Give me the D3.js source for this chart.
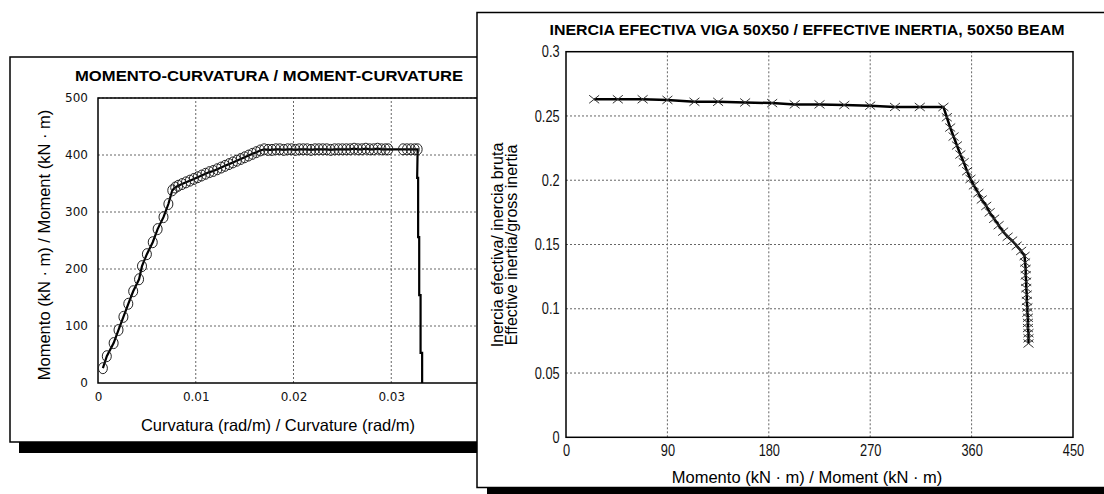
<!DOCTYPE html>
<html>
<head>
<meta charset="utf-8">
<script src="https://cdn.jsdelivr.net/npm/d3@7"></script>
<style>
  body { margin: 0; background: #fff; }
  svg { display: block; }
</style>
</head>
<body>
<div id="chart"></div>
<script>
// ---- moment-curvature data (left chart) ----
var curvature = [0.0005, 0.0009, 0.0016, 0.0021, 0.0026, 0.0031, 0.0036, 0.0042, 0.0045, 0.0050, 0.0056, 0.0061, 0.0067, 0.0072,
  0.0076, 0.0079, 0.0082, 0.0086, 0.0090, 0.0094, 0.0098, 0.0102, 0.0106, 0.0110, 0.0114, 0.0118, 0.0122, 0.0126, 0.0130,
  0.0134, 0.0138, 0.0142, 0.0146, 0.0150, 0.0154, 0.0158, 0.0162, 0.0166, 0.0170,
  0.0174, 0.0178, 0.0182, 0.0186, 0.0190, 0.0194, 0.0198, 0.0202, 0.0206, 0.0210, 0.0214, 0.0218, 0.0222, 0.0226, 0.0230,
  0.0234, 0.0238, 0.0242, 0.0246, 0.0250, 0.0254, 0.0258, 0.0262, 0.0266, 0.0270, 0.0274, 0.0278, 0.0282, 0.0286, 0.0290,
  0.0294, 0.0297,
  0.0312, 0.0316, 0.0320, 0.0324, 0.0327];
var moment = [26, 47, 70, 93, 116, 139, 161, 182, 205, 226, 247, 270, 291, 314,
  338, 343, 346, 349, 352, 355, 358, 361, 364, 367, 370, 372, 375, 378, 381,
  384, 387, 390, 393, 396, 399, 402, 405, 408, 410,
  409, 409, 410, 410, 409, 410, 410, 409, 410, 410, 410, 409, 410, 410, 410,
  410, 409, 410, 410, 410, 410, 410, 411, 410, 410, 411, 410, 410, 411, 410,
  410, 410,
  410, 410, 410, 410, 410];
// failure branch, drawn as line only
var dropCurvature = [0.0327, 0.03265, 0.03275, 0.03275, 0.03286, 0.03286, 0.0330, 0.0330, 0.03316, 0.03316];
var dropMoment = [410, 360, 360, 256, 256, 154, 154, 53, 53, 0];

var leftXTicks = [0, 0.01, 0.02, 0.03, 0.04];
var leftYTicks = [0, 100, 200, 300, 400, 500];

// ---- effective inertia data (right chart) ----
var beamMoment = [25, 46, 68, 90, 114, 135, 159, 183, 203, 225, 247, 270, 292, 314, 335,
  338, 341, 344, 347, 350, 353, 356, 359, 362, 366, 369, 373, 376, 380, 384, 388, 392, 396, 400, 404, 407,
  407.5, 408, 408, 408.5, 408.5, 409, 409, 409.5, 409.5, 410, 410, 410, 410.5, 410.5, 410.5];
var inertiaRatio = [0.263, 0.263, 0.263, 0.2625, 0.261, 0.261, 0.2605, 0.260, 0.259, 0.259, 0.2585, 0.258, 0.257, 0.257, 0.257,
  0.249, 0.241, 0.234, 0.227, 0.220, 0.214, 0.207, 0.201, 0.196, 0.190, 0.185, 0.180, 0.175, 0.170, 0.165, 0.160, 0.156, 0.153, 0.149, 0.145, 0.141,
  0.136, 0.131, 0.126, 0.121, 0.116, 0.111, 0.106, 0.101, 0.097, 0.093, 0.089, 0.085, 0.081, 0.077, 0.073];

var rightXTicks = [0, 90, 180, 270, 360, 450];
var rightYTicks = [0, 0.05, 0.1, 0.15, 0.2, 0.25, 0.3];

var width = 1104, height = 494;
var svg = d3.select("#chart").append("svg")
  .attr("width", width).attr("height", height);
svg.append("rect").attr("width", width).attr("height", height).attr("fill", "#fff");

var sans = "'Liberation Sans', Arial, sans-serif";

// ================= LEFT CHART =================
var left = svg.append("g");
left.append("rect").attr("x", 19).attr("y", 442).attr("width", 470).attr("height", 11).attr("fill", "#000");
left.append("rect").attr("x", 10).attr("y", 57).attr("width", 480).attr("height", 385)
  .attr("fill", "#fff").attr("stroke", "#000").attr("stroke-width", 1.5);

var lx = d3.scaleLinear().domain([0, 0.04]).range([98, 489]);
var ly = d3.scaleLinear().domain([0, 500]).range([383, 98]);

// grid
left.append("g").selectAll("line").data(leftXTicks.slice(1)).enter().append("line")
  .attr("x1", d => lx(d)).attr("x2", d => lx(d)).attr("y1", ly(0)).attr("y2", ly(500))
  .attr("stroke", "#666").attr("stroke-dasharray", "2,2");
left.append("g").selectAll("line").data(leftYTicks.slice(1)).enter().append("line")
  .attr("x1", lx(0)).attr("x2", lx(0.04)).attr("y1", d => ly(d)).attr("y2", d => ly(d))
  .attr("stroke", "#666").attr("stroke-dasharray", "2,2");

left.append("rect").attr("x", lx(0)).attr("y", ly(500))
  .attr("width", lx(0.04) - lx(0)).attr("height", ly(0) - ly(500))
  .attr("fill", "none").attr("stroke", "#000").attr("stroke-width", 1.5);

var lxAxis = d3.axisBottom(lx).tickValues([0, 0.01, 0.02, 0.03]).tickSize(0).tickPadding(9)
  .tickFormat(d => d === 0 ? "0" : d3.format(".2f")(d));
left.append("g").attr("transform", "translate(0," + ly(0) + ")").call(lxAxis)
  .call(g => g.select(".domain").remove())
  .selectAll("text").attr("font-family", "'DejaVu Sans', Verdana, sans-serif").attr("font-size", 12).attr("fill", "#111");
var lyAxis = d3.axisLeft(ly).tickValues(leftYTicks).tickSize(0).tickPadding(10);
left.append("g").attr("transform", "translate(" + lx(0) + ",0)").call(lyAxis)
  .call(g => g.select(".domain").remove())
  .selectAll("text").attr("font-family", "'DejaVu Sans', Verdana, sans-serif").attr("font-size", 12).attr("fill", "#111");

var mcPoints = d3.zip(curvature, moment);
var dropPoints = d3.zip(dropCurvature, dropMoment);
var lline = d3.line().x(d => lx(d[0])).y(d => ly(d[1]));
left.append("path").attr("d", lline(mcPoints.concat(dropPoints)))
  .attr("fill", "none").attr("stroke", "#000").attr("stroke-width", 2.2);
left.append("g").selectAll("ellipse").data(mcPoints).enter().append("ellipse")
  .attr("cx", d => lx(d[0])).attr("cy", d => ly(d[1]))
  .attr("rx", 4.5).attr("ry", 5.5)
  .attr("fill", "none").attr("stroke", "#222").attr("stroke-width", 1);

left.append("text").attr("x", 269).attr("y", 81)
  .attr("text-anchor", "middle").attr("font-family", sans)
  .attr("font-weight", "bold").attr("font-size", 14)
  .attr("textLength", 388).attr("lengthAdjust", "spacingAndGlyphs")
  .text("MOMENTO-CURVATURA / MOMENT-CURVATURE");
left.append("text").attr("x", 278).attr("y", 431)
  .attr("text-anchor", "middle").attr("font-family", sans)
  .attr("font-size", 16.5).text("Curvatura (rad/m) / Curvature (rad/m)");
left.append("text").attr("transform", "translate(50,245) rotate(-90)")
  .attr("text-anchor", "middle").attr("font-family", sans)
  .attr("font-size", 16.5).text("Momento (kN \u00b7 m) / Moment (kN \u00b7 m)");

// ================= RIGHT CHART =================
var right = svg.append("g");
right.append("rect").attr("x", 487).attr("y", 488).attr("width", 620).attr("height", 10).attr("fill", "#000");
right.append("rect").attr("x", 477).attr("y", 12.5).attr("width", 640).attr("height", 475)
  .attr("fill", "#fff").attr("stroke", "#000").attr("stroke-width", 1.5);

var rx = d3.scaleLinear().domain([0, 450]).range([566, 1073]);
var ry = d3.scaleLinear().domain([0, 0.3]).range([437.3, 51.7]);

right.append("g").selectAll("line").data(rightXTicks.slice(1, -1)).enter().append("line")
  .attr("x1", d => rx(d)).attr("x2", d => rx(d)).attr("y1", ry(0)).attr("y2", ry(0.3))
  .attr("stroke", "#666").attr("stroke-dasharray", "2,2");
right.append("g").selectAll("line").data(rightYTicks.slice(1, -1)).enter().append("line")
  .attr("x1", rx(0)).attr("x2", rx(450)).attr("y1", d => ry(d)).attr("y2", d => ry(d))
  .attr("stroke", "#666").attr("stroke-dasharray", "2,2");

right.append("rect").attr("x", rx(0)).attr("y", ry(0.3))
  .attr("width", rx(450) - rx(0)).attr("height", ry(0) - ry(0.3))
  .attr("fill", "none").attr("stroke", "#000").attr("stroke-width", 1.5);

// narrow tick labels: squeeze glyphs horizontally
var rxAxis = d3.axisBottom(rx).tickValues(rightXTicks).tickSize(0).tickPadding(7);
right.append("g").attr("transform", "translate(0," + ry(0) + ")").call(rxAxis)
  .call(g => g.select(".domain").remove())
  .selectAll("text").attr("font-family", sans).attr("font-size", 16).attr("fill", "#111")
  .attr("transform", "scale(0.8,1)");
var ryAxis = d3.axisLeft(ry).tickValues(rightYTicks).tickSize(0).tickPadding(8)
  .tickFormat(d => String(d));
right.append("g").attr("transform", "translate(" + rx(0) + ",0)").call(ryAxis)
  .call(g => g.select(".domain").remove())
  .selectAll("text").attr("font-family", sans).attr("font-size", 16).attr("fill", "#111")
  .attr("transform", "scale(0.8,1)");

var inPoints = d3.zip(beamMoment, inertiaRatio);
var rline = d3.line().x(d => rx(d[0])).y(d => ry(d[1]));
right.append("path").attr("d", rline(inPoints))
  .attr("fill", "none").attr("stroke", "#000").attr("stroke-width", 2.5);
right.append("g").selectAll("path").data(inPoints).enter().append("path")
  .attr("transform", d => "translate(" + rx(d[0]) + "," + ry(d[1]) + ")")
  .attr("d", "M-5,-4L5,4M-5,4L5,-4")
  .attr("fill", "none").attr("stroke", "#333").attr("stroke-width", 1);

right.append("text").attr("x", 807).attr("y", 35)
  .attr("text-anchor", "middle").attr("font-family", sans)
  .attr("font-weight", "bold").attr("font-size", 14.5)
  .attr("textLength", 515).attr("lengthAdjust", "spacingAndGlyphs")
  .text("INERCIA EFECTIVA VIGA 50X50 / EFFECTIVE INERTIA, 50X50 BEAM");
right.append("text").attr("x", 807).attr("y", 483)
  .attr("text-anchor", "middle").attr("font-family", sans)
  .attr("font-size", 16.5).text("Momento (kN \u00b7 m) / Moment (kN \u00b7 m)");
var ylab = right.append("text").attr("transform", "translate(503,245) rotate(-90)")
  .attr("text-anchor", "middle").attr("font-family", sans)
  .attr("font-size", 16);
ylab.append("tspan").attr("x", 0).attr("dy", 0).text("Inercia efectiva/ inercia bruta");
ylab.append("tspan").attr("x", 0).attr("dy", 14).text("Effective inertia/gross inertia");
</script>
</body>
</html>
